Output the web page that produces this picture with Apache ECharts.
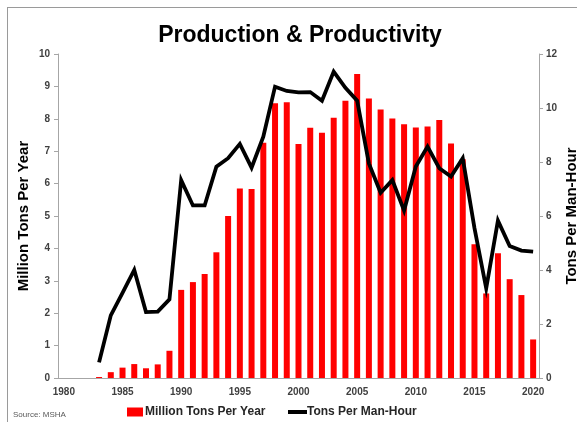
<!DOCTYPE html>
<html>
<head>
<meta charset="utf-8">
<script src="https://cdn.jsdelivr.net/npm/echarts@6/dist/echarts.min.js"></script>
<style>
  html, body { margin: 0; padding: 0; background: #fff; }
  #chart { width: 577px; height: 422px; }
</style>
</head>
<body>
<div id="chart"></div>
<script>
// Years on the category axis
const years = [];
for (let y = 1980; y <= 2020; y++) years.push(String(y));

// Million tons produced per year (1980-2020)
const production = [
  null, null, null, 0.03, 0.18, 0.32, 0.43, 0.30, 0.42, 0.84,
  2.72, 2.96, 3.21, 3.88, 5.00, 5.85, 5.83, 7.26, 8.48, 8.51,
  7.22, 7.72, 7.57, 8.03, 8.56, 9.38, 8.63, 8.29, 8.01, 7.83,
  7.73, 7.76, 7.96, 7.24, 6.75, 4.13, 2.61, 3.85, 3.05, 2.56,
  1.19
];

// Tons per man-hour (1980-2020)
const productivity = [
  null, null, null, 0.58, 2.32, 3.15, 4.00, 2.44, 2.46, 2.91,
  7.33, 6.39, 6.39, 7.83, 8.14, 8.67, 7.79, 8.94, 10.79, 10.63,
  10.58, 10.59, 10.27, 11.35, 10.75, 10.27, 7.95, 6.86, 7.33, 6.20,
  7.83, 8.57, 7.77, 7.46, 8.14, 5.55, 3.32, 5.83, 4.89, 4.72,
  4.68
];

const FONT = '"Liberation Sans", Arial, sans-serif';
const LABEL = '#404040';
const AXIS = '#a6a6a6';

const chart = echarts.init(document.getElementById('chart'), null, { renderer: 'canvas' });

chart.setOption({
  backgroundColor: '#ffffff',
  animation: false,
  textStyle: { fontFamily: FONT },
  title: {
    text: 'Production & Productivity',
    left: 295,
    top: 19,
    textAlign: 'center',
    textStyle: { fontFamily: FONT, fontSize: 23, fontWeight: 'bold', color: '#000' }
  },
  grid: { left: 58, right: 38, top: 54, bottom: 44, containLabel: false, outerBoundsMode: 'none' },
  legend: [
    {
      data: [{ name: 'Million Tons Per Year', icon: 'rect' }],
      left: 122, top: 401,
      itemWidth: 16, itemHeight: 9, itemGap: 0,
      textStyle: { fontFamily: FONT, fontSize: 12, fontWeight: 'bold', color: '#262626', padding: [0, 0, 0, -3] }
    },
    {
      data: [{ name: 'Tons Per Man-Hour', icon: 'rect' }],
      left: 283, top: 401,
      itemWidth: 19, itemHeight: 4, itemGap: 0,
      textStyle: { fontFamily: FONT, fontSize: 12, fontWeight: 'bold', color: '#262626', padding: [0, 0, 0, -5] }
    }
  ],
  xAxis: {
    type: 'category',
    data: years,
    boundaryGap: true,
    axisLine: { lineStyle: { color: AXIS, width: 1 } },
    axisTick: { interval: 1, length: 4, lineStyle: { color: AXIS } },
    axisLabel: { interval: 4, fontFamily: FONT, fontSize: 10, fontWeight: 'bold', color: LABEL, margin: 9 },
    splitLine: { show: false }
  },
  yAxis: [
    {
      type: 'value',
      min: 0, max: 10, interval: 1,
      name: 'Million Tons Per Year',
      nameLocation: 'middle',
      nameGap: 27,
      nameRotate: 90,
      nameMoveOverlap: false,
      nameTextStyle: { fontFamily: FONT, fontSize: 15, fontWeight: 'bold', color: '#000' },
      axisLine: { show: true, lineStyle: { color: AXIS } },
      axisTick: { show: true, length: 4, lineStyle: { color: AXIS } },
      axisLabel: { fontFamily: FONT, fontSize: 10, fontWeight: 'bold', color: LABEL, margin: 8 },
      splitLine: { show: false }
    },
    {
      type: 'value',
      min: 0, max: 12, interval: 2,
      name: 'Tons Per Man-Hour',
      nameLocation: 'middle',
      nameGap: 25,
      nameRotate: 90,
      nameMoveOverlap: false,
      nameTextStyle: { fontFamily: FONT, fontSize: 15, fontWeight: 'bold', color: '#000' },
      axisLine: { show: true, lineStyle: { color: AXIS } },
      axisTick: { show: true, length: 4, lineStyle: { color: AXIS } },
      axisLabel: { fontFamily: FONT, fontSize: 10, fontWeight: 'bold', color: LABEL, margin: 7 },
      splitLine: { show: false }
    }
  ],
  series: [
    {
      name: 'Million Tons Per Year',
      type: 'bar',
      yAxisIndex: 0,
      data: production,
      barWidth: 6,
      itemStyle: { color: '#ff0000' }
    },
    {
      name: 'Tons Per Man-Hour',
      type: 'line',
      yAxisIndex: 1,
      data: productivity,
      showSymbol: false,
      symbol: 'none',
      connectNulls: false,
      lineStyle: { color: '#000', width: 3.8, join: 'miter' },
      itemStyle: { color: '#000' }
    }
  ],
  graphic: [
    { type: 'line', shape: { x1: 7, y1: 7.5, x2: 577, y2: 7.5 }, style: { stroke: '#9a9a9a', lineWidth: 1 } },
    { type: 'line', shape: { x1: 7.5, y1: 7, x2: 7.5, y2: 422 }, style: { stroke: '#9a9a9a', lineWidth: 1 } },
    { type: 'text', left: 13, top: 411, style: { text: 'Source: MSHA', fontFamily: FONT, fontSize: 8, fill: '#595959' } }
  ]
});
</script>
</body>
</html>
